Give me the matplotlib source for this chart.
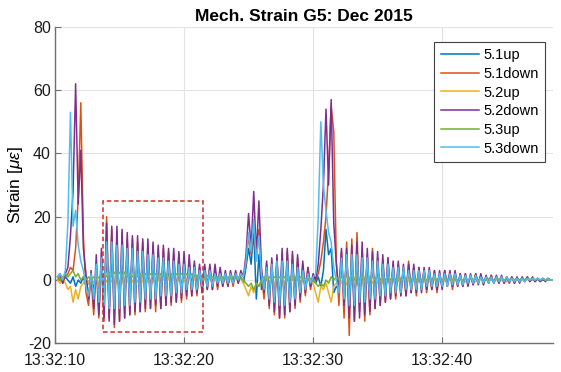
from __future__ import annotations

import matplotlib

matplotlib.use("Agg")
import matplotlib.dates as mdates
import matplotlib.pyplot as plt
import numpy as np
from matplotlib.patches import Rectangle

T_START = "2015-12-01T13:32:10.200"
T_STEP_MS = 200
X_MIN = "2015-12-01T13:32:10"
X_MAX = "2015-12-01T13:32:48.6"

LABELS = ["5.1up", "5.1down", "5.2up", "5.2down", "5.3up", "5.3down"]
COLORS = ["#0072BD", "#D95319", "#EDB120", "#7E2F8E", "#77AC30", "#4DBEEE"]

up_51 = [
    0, 1, -1, 1, 0, -1, 1, -2, 0, -1,
    1, -2, -1, 1, -3, 2, -4, 4, -5, 7,
    -6, 8, -6, 8, -6, 7, -6, 7, -5, 7,
    -5, 6, -5, 6, -5, 6, -4, 5, -4, 5,
    -4, 5, -4, 4, -3, 4, -3, 4, -3, 3,
    -3, 3, -2, 3, -2, 2, -2, 2, -1, 2,
    -1, 2, -1, 1, -1, 1, -1, 1, 0, 1,
    0, 1, -1, 4, 10, 5, 16, -6, 8, -3,
    -2, 3, -5, 4, -6, 5, -6, 5, -6, 5,
    -5, 4, -4, 3, -3, 2, -2, 1, -1, 0,
    -1, 1, -2, 3, 16, 8, 10, -4, -2, -3,
    5, -5, 6, -6, 6, -6, 6, -5, 5, -5,
    5, -4, 4, -4, 4, -4, 4, -3, 3, -3,
    3, -3, 3, -3, 3, -2, 2, -2, 2, -2,
    2, -2, 2, -2, 2, -1.5, 1.5, -1.5, 1.5, -1.5,
    1.5, -1, 1.5, -1, 1, -1, 1, -1, 1, -1,
    1, -1, 1, -0.5, 1, -0.5, 0.5, -0.5, 0.5, -0.5,
    0.5, -0.5, 0.5, -0.5, 0.5, 0, 0.5, 0, 0.5, 0,
    0.5, 0, 0.5, 0, 0, 0, 0.5, 0, 0, 0,
    0, 0, 0,
]

down_51 = [
    0, 1, 0, 1, 2, 4, 3, 10, 26, 56,
    14, -4, -8, 1, -11, 4, -12, 6, -13, 20,
    -12, 16, -15, 15, -13, 15, -12, 13, -11, 13,
    -11, 12, -10, 12, -10, 11, -9, 11, -10, 10,
    -9, 10, -8, 9, -8, 8, -7, 8, -7, 7,
    -6, 6, -5, 5, -5, 4, -4, 4, -3, 4,
    -3, 3, -3, 3, -2, 2, -2, 2, -2, 2,
    -1, 2, 1, 5, 14, 8, 19, 6, 16, 2,
    -6, 5, -9, 6, -11, 7, -12, 8, -12, 9,
    -10, 8, -9, 7, -7, 5, -5, 4, -3, 1,
    0, 2, 6, 12, 20, 35, 55, 47, 6, -8,
    9, -12, 12, -17.5, 13, -13, 15, -10, 10, -13,
    8, -11, 10, -9, 7, -8, 6, -7, 7, -6,
    5, -6, 5, -5, 4, -5, 6, -4, 4, -5,
    4, -3, 3, -4, 3, -3, 3, -4, 2, -2,
    3, -2, 2, -3, 2, -2, 2, -2, 2, -1.5,
    1.5, -1.5, 2, -1, 1.5, -1.5, 1, -1, 1.5, -1,
    1, -1, 1, -1, 1, -0.5, 1, -1, 0.5, -0.5,
    0.5, -0.5, 1, -0.5, 0.5, -0.5, 0.5, -0.5, 0.5, 0,
    0.5, 0, 0,
]

up_52 = [
    0, -1, 1, -1, -3, -2, -7, -3, -6, -2,
    -1, 1, -1, 1, -1, 1, -2, 1, -2, 0,
    -2, 0, -2, 0, -2, 0, -2, 0, -2, 0,
    -2, 0, -2, 0, -1.5, 0, -1.5, 0, -1.5, 0.5,
    -1.5, 0.5, -1, 0.5, -1, 0.5, -1, 0.5, -1, 0.5,
    -1, 0.5, -1, 0.5, -1, 0.5, -0.5, 0.5, -0.5, 0.5,
    -0.5, 0.5, -0.5, 0.5, -0.5, 0.5, -0.5, 0.5, 0, 0.5,
    0, 0.5, -1, -3, -5, -2, -4, -1, -2, 0,
    -1, 1, -1, 1, -1.5, 1, -1.5, 1, -1.5, 1,
    -1, 1, -1, 0.5, -1, 0.5, -0.5, 0.5, 0, -1,
    -4, -7, -2, -3, -1, -4, -7, -2, -1, 0,
    -1, 1, -1.5, 1, -1.5, 1, -1.5, 1, -1, 1,
    -1, 1, -1, 0.5, -1, 0.5, -1, 0.5, -0.5, 0.5,
    -0.5, 0.5, -0.5, 0.5, -0.5, 0.5, -0.5, 0.5, -0.5, 0.5,
    -0.5, 0.5, -0.5, 0, -0.5, 0.5, 0, 0.5, -0.5, 0,
    -0.5, 0.5, 0, 0.5, -0.5, 0, 0.5, 0, -0.5, 0,
    0.5, 0, -0.5, 0, 0.5, 0, 0, 0.5, 0, 0,
    0, 0.5, 0, 0, -0.5, 0, 0.5, 0, 0, 0,
    0, 0, 0.5, 0, 0, 0, 0, 0, 0.5, 0,
    0, 0, 0,
]

down_52 = [
    1, 2, -1, 2, 4, 14, 28, 62, 24, 41,
    10, 2, -6, 3, -9, 8, -11, 10, -12, 18,
    -13, 17, -14, 17, -13, 16, -12, 15, -11, 14,
    -10, 14, -10, 13, -9, 13, -9, 12, -8, 11,
    -9, 11, -8, 10, -7, 10, -7, 9, -6, 9,
    -5, 8, -5, 6, -4, 5, -4, 5, -3, 5,
    -3, 5, -2, 4, -2, 3, -2, 3, -1, 3,
    -1, 3, 1, 8, 21, 10, 28, 8, 25, 4,
    -4, 6, -8, 7, -10, 8, -12, 10, -11, 10,
    -10, 9, -8, 8, -6, 6, -4, 4, -2, 2,
    0, 5, 16, 30, 54, 30, 57, 18, 5, -3,
    10, -8, 10, -12, 11, -13, 12, -12, 12, -11,
    10, -10, 9, -9, 9, -8, 8, -7, 7, -6,
    6, -5, 6, -5, 5, -5, 5, -4, 5, -4,
    4, -4, 4, -3, 4, -3, 3, -3, 3, -3,
    3, -2, 3, -2, 3, -2, 2, -2, 2, -2,
    2, -1.5, 2, -1.5, 2, -1.5, 1.5, -1, 1.5, -1,
    1.5, -1, 1.5, -1, 1, -1, 1, -1, 1, -1,
    1, -0.5, 1, -0.5, 1, -0.5, 0.5, -0.5, 0.5, -0.5,
    0.5, 0, 0,
]

up_53 = [
    1, 0, 1, 2, 1, 2, 3, 1, 2, 0,
    1, 0, 1, 0, 1, 0, 1, 1, 2, 1,
    2.5, 1, 2.5, 1, 2.5, 1, 2.5, 1, 2, 1,
    2, 1, 2, 1, 2, 1, 2, 1, 2, 1,
    2, 1, 2, 1, 2, 1, 2, 1, 2, 1,
    2, 1, 2, 1, 1.5, 0.5, 1.5, 0.5, 1.5, 0.5,
    1, 0.5, 1, 0.5, 1, 0.5, 1, 0.5, 1, 0.5,
    1, 0.5, 0, -1, -2, -1, -3, -1, -2, 0,
    1, 0, 1, 0, 1, 0, 1, 0, 1, 0,
    1, 0, 1, 0, 1, 0, 0.5, 0, 0.5, 0,
    -1, -2, -1, -2, 0, -1, 1, 0, 1, 0,
    1, 0, 1.5, 0, 1.5, 0, 1.5, 0, 1, 0,
    1, 0, 1, 0, 1, 0, 1, 0, 1, 0,
    1, 0, 1, 0, 0.5, 0, 0.5, 0, 0.5, 0,
    0.5, 0, 0.5, 0, 0.5, 0, 0.5, 0, 0.5, 0,
    0.5, 0, 0.5, 0, 0.5, 0, 0.5, 0, 0.5, 0,
    0.5, 0, 0.5, 0, 0.5, 0, 0.5, 0, 0.5, 0,
    0.5, 0, 0.5, 0, 0.5, 0, 0.5, 0, 0.5, 0,
    0.5, 0, 0.5, 0, 0.5, 0, 0.5, 0, 0.5, 0,
    0, 0, 0,
]

down_53 = [
    1, 2, 0, 3, 18, 53, 17, 22, 11, 6,
    3, -2, -5, 2, -6, 5, -7, 7, -8, 12,
    -9, 12, -9, 11, -9, 11, -8, 10, -8, 10,
    -7, 9, -7, 9, -6, 8, -6, 8, -6, 7,
    -5, 7, -5, 6, -5, 6, -4, 5, -4, 5,
    -3, 4, -3, 4, -3, 3, -2, 3, -2, 3,
    -2, 2, -1, 2, -1, 2, -1, 2, -1, 2,
    0, 2, 1, 6, 15, 9, 19, 6, 14, 2,
    -3, 4, -6, 5, -7, 6, -8, 6, -8, 6,
    -7, 5, -6, 4, -4, 3, -3, 2, -1, 1,
    2, 20, 50, 30, 22, 15, 12, 4, 0, -4,
    7, -6, 8, -8, 8, -8, 8, -7, 7, -7,
    7, -6, 6, -6, 6, -5, 5, -5, 5, -4,
    4, -4, 4, -4, 4, -3, 3, -3, 3, -3,
    3, -3, 3, -2, 3, -2, 2, -2, 2, -2,
    2, -2, 2, -1.5, 2, -1.5, 1.5, -1.5, 1.5, -1,
    1.5, -1, 1.5, -1, 1, -1, 1, -1, 1, -1,
    1, -0.5, 1, -0.5, 1, -0.5, 0.5, -0.5, 0.5, -0.5,
    0.5, -0.5, 0.5, 0, 0.5, 0, 0.5, 0, 0.5, 0,
    0.5, 0, 0,
]

# highlighted window (dashed red box)
BOX_T0 = "2015-12-01T13:32:13.75"
BOX_T1 = "2015-12-01T13:32:21.5"
BOX_LO = -16.3
BOX_HI = 25.0

SERIES = [up_51, down_51, up_52, down_52, up_53, down_53]


def main() -> None:
    plt.rcParams["font.family"] = ["Liberation Sans", "DejaVu Sans"]
    plt.rcParams["mathtext.fontset"] = "custom"
    plt.rcParams["mathtext.it"] = "Liberation Sans:italic"
    plt.rcParams["mathtext.rm"] = "Liberation Sans"
    plt.rcParams["axes.unicode_minus"] = False

    n = len(down_52)
    assert all(len(s) == n for s in SERIES)
    t = np.datetime64(T_START) + np.arange(n) * np.timedelta64(T_STEP_MS, "ms")

    fig = plt.figure(figsize=(5.61, 3.72), dpi=100)
    ax = fig.add_axes([0.098, 0.077, 0.888, 0.851])

    for values, label, color in zip(SERIES, LABELS, COLORS):
        ax.plot(t, values, color=color, linewidth=1.1, label=label)

    t0 = mdates.date2num(np.datetime64(BOX_T0))
    t1 = mdates.date2num(np.datetime64(BOX_T1))
    ax.add_patch(
        Rectangle((t0, BOX_LO), t1 - t0, BOX_HI - BOX_LO, fill=False,
                  edgecolor="#D42A2A", linewidth=1.1, linestyle=(0, (3, 1.8)), zorder=5)
    )

    ax.set_xlim(np.datetime64(X_MIN), np.datetime64(X_MAX))
    ax.set_ylim(-20, 80)
    ax.set_yticks([-20, 0, 20, 40, 60, 80])
    ax.xaxis.set_major_locator(mdates.SecondLocator(bysecond=[0, 10, 20, 30, 40, 50]))
    ax.xaxis.set_major_formatter(mdates.DateFormatter("%H:%M:%S"))

    ax.grid(True, color="#E3E3E3", linewidth=0.8)
    ax.set_axisbelow(True)
    for side in ["top", "right"]:
        ax.spines[side].set_visible(False)
    for side in ["left", "bottom"]:
        ax.spines[side].set_color("#707070")
        ax.spines[side].set_linewidth(1.0)
    ax.tick_params(direction="in", length=4, color="#707070", labelsize=11.5, labelcolor="#1a1a1a", pad=3)
    ax.tick_params(axis="x", pad=7)

    ax.set_title("Mech. Strain G5: Dec 2015", fontsize=12.5, fontweight="bold", pad=4)
    ax.set_ylabel(r"Strain [$\mu\varepsilon$]", fontsize=12.5, labelpad=2)

    leg = ax.legend(loc="upper right", bbox_to_anchor=(0.984, 0.953), borderaxespad=0,
                    fontsize=10.5, handlelength=2.6, labelspacing=0.32, handletextpad=0.3,
                    fancybox=False, framealpha=1, borderpad=0.45)
    leg.get_frame().set_edgecolor("#404040")
    leg.get_frame().set_linewidth(0.8)

    fig.savefig("out.png", dpi=100)
    plt.close(fig)


if __name__ == "__main__":
    main()
